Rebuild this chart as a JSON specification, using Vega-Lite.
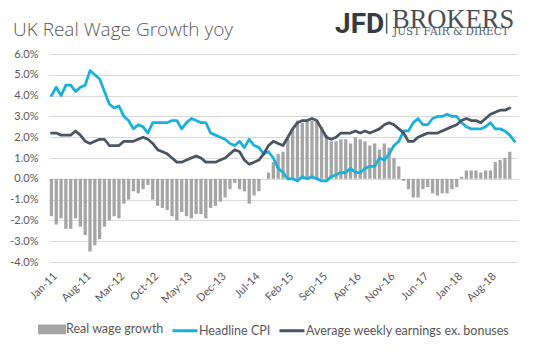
{
  "$schema": "https://vega.github.io/schema/vega-lite/v6.json",
  "width": 468,
  "height": 208,
  "autosize": {"type": "none"},
  "padding": {"left": 49, "top": 54, "right": 26, "bottom": 89},
  "background": "white",
  "config": {
    "view": {"stroke": null},
    "font": "Lato",
    "axisY": {"tickCount": 20, "labelOverlap": false, "title": null, "ticks": false, "domain": false, "grid": true, "gridColor": "#D9D9D9", "gridWidth": 1, "labelFont": "Lato", "labelFontSize": 11, "labelColor": "#595959", "labelPadding": 11},
    "axisX": {"labelAngle": -45, "ticks": false, "domain": false, "grid": false, "title": null, "labelFont": "Lato", "labelFontSize": 11, "labelColor": "#595959", "labelPadding": 8}
  },
  "title": {"text": "UK Real Wage Growth yoy", "anchor": "start", "frame": "group", "dx": -36, "dy": 48, "offset": 0, "baseline": "alphabetic", "fontSize": 19, "fontWeight": 300, "font": "Open Sans", "color": "#595959"},
  "resolve": {"axis": {"x": "independent", "y": "independent"}},
  "data": {"values": [
    {"m":"Jan-11","cpi":4.0,"awe":2.2,"real":-1.8},
    {"m":"Feb-11","cpi":4.4,"awe":2.2,"real":-2.2},
    {"m":"Mar-11","cpi":4.0,"awe":2.1,"real":-1.9},
    {"m":"Apr-11","cpi":4.5,"awe":2.1,"real":-2.4},
    {"m":"May-11","cpi":4.5,"awe":2.1,"real":-2.4},
    {"m":"Jun-11","cpi":4.2,"awe":2.3,"real":-1.9},
    {"m":"Jul-11","cpi":4.4,"awe":2.1,"real":-2.3},
    {"m":"Aug-11","cpi":4.5,"awe":1.8,"real":-2.7},
    {"m":"Sep-11","cpi":5.2,"awe":1.7,"real":-3.5},
    {"m":"Oct-11","cpi":5.0,"awe":1.8,"real":-3.2},
    {"m":"Nov-11","cpi":4.8,"awe":1.9,"real":-2.9},
    {"m":"Dec-11","cpi":4.2,"awe":1.9,"real":-2.3},
    {"m":"Jan-12","cpi":3.6,"awe":1.6,"real":-2.0},
    {"m":"Feb-12","cpi":3.4,"awe":1.6,"real":-1.8},
    {"m":"Mar-12","cpi":3.5,"awe":1.6,"real":-1.9},
    {"m":"Apr-12","cpi":3.0,"awe":1.8,"real":-1.2},
    {"m":"May-12","cpi":2.8,"awe":1.8,"real":-1.0},
    {"m":"Jun-12","cpi":2.4,"awe":1.8,"real":-0.6},
    {"m":"Jul-12","cpi":2.6,"awe":1.9,"real":-0.7},
    {"m":"Aug-12","cpi":2.5,"awe":2.0,"real":-0.5},
    {"m":"Sep-12","cpi":2.2,"awe":1.9,"real":-0.3},
    {"m":"Oct-12","cpi":2.7,"awe":1.7,"real":-1.0},
    {"m":"Nov-12","cpi":2.7,"awe":1.4,"real":-1.3},
    {"m":"Dec-12","cpi":2.7,"awe":1.3,"real":-1.4},
    {"m":"Jan-13","cpi":2.7,"awe":1.2,"real":-1.5},
    {"m":"Feb-13","cpi":2.8,"awe":1.0,"real":-1.8},
    {"m":"Mar-13","cpi":2.8,"awe":0.8,"real":-2.0},
    {"m":"Apr-13","cpi":2.4,"awe":0.8,"real":-1.6},
    {"m":"May-13","cpi":2.7,"awe":0.9,"real":-1.8},
    {"m":"Jun-13","cpi":2.9,"awe":1.0,"real":-1.9},
    {"m":"Jul-13","cpi":2.8,"awe":1.1,"real":-1.7},
    {"m":"Aug-13","cpi":2.7,"awe":1.0,"real":-1.7},
    {"m":"Sep-13","cpi":2.7,"awe":0.8,"real":-1.9},
    {"m":"Oct-13","cpi":2.2,"awe":0.8,"real":-1.4},
    {"m":"Nov-13","cpi":2.1,"awe":0.8,"real":-1.3},
    {"m":"Dec-13","cpi":2.0,"awe":0.9,"real":-1.1},
    {"m":"Jan-14","cpi":1.9,"awe":1.0,"real":-0.9},
    {"m":"Feb-14","cpi":1.7,"awe":1.2,"real":-0.5},
    {"m":"Mar-14","cpi":1.6,"awe":1.4,"real":-0.2},
    {"m":"Apr-14","cpi":1.8,"awe":1.3,"real":-0.5},
    {"m":"May-14","cpi":1.5,"awe":0.9,"real":-0.6},
    {"m":"Jun-14","cpi":1.9,"awe":0.7,"real":-1.2},
    {"m":"Jul-14","cpi":1.6,"awe":0.8,"real":-0.8},
    {"m":"Aug-14","cpi":1.5,"awe":0.9,"real":-0.6},
    {"m":"Sep-14","cpi":1.2,"awe":1.2,"real":0.0},
    {"m":"Oct-14","cpi":1.3,"awe":1.6,"real":0.3},
    {"m":"Nov-14","cpi":1.0,"awe":1.8,"real":0.8},
    {"m":"Dec-14","cpi":0.5,"awe":1.7,"real":1.2},
    {"m":"Jan-15","cpi":0.3,"awe":1.6,"real":1.3},
    {"m":"Feb-15","cpi":0.0,"awe":2.0,"real":2.0},
    {"m":"Mar-15","cpi":0.0,"awe":2.4,"real":2.4},
    {"m":"Apr-15","cpi":-0.1,"awe":2.7,"real":2.8},
    {"m":"May-15","cpi":0.1,"awe":2.8,"real":2.7},
    {"m":"Jun-15","cpi":0.0,"awe":2.8,"real":2.8},
    {"m":"Jul-15","cpi":0.1,"awe":2.9,"real":2.8},
    {"m":"Aug-15","cpi":0.0,"awe":2.8,"real":2.8},
    {"m":"Sep-15","cpi":-0.1,"awe":2.4,"real":2.5},
    {"m":"Oct-15","cpi":-0.1,"awe":2.0,"real":2.1},
    {"m":"Nov-15","cpi":0.1,"awe":1.9,"real":1.8},
    {"m":"Dec-15","cpi":0.2,"awe":2.0,"real":1.8},
    {"m":"Jan-16","cpi":0.3,"awe":2.2,"real":1.9},
    {"m":"Feb-16","cpi":0.3,"awe":2.2,"real":1.9},
    {"m":"Mar-16","cpi":0.5,"awe":2.2,"real":1.7},
    {"m":"Apr-16","cpi":0.3,"awe":2.3,"real":2.0},
    {"m":"May-16","cpi":0.3,"awe":2.2,"real":1.9},
    {"m":"Jun-16","cpi":0.5,"awe":2.3,"real":1.8},
    {"m":"Jul-16","cpi":0.6,"awe":2.2,"real":1.6},
    {"m":"Aug-16","cpi":0.6,"awe":2.3,"real":1.7},
    {"m":"Sep-16","cpi":1.0,"awe":2.4,"real":1.4},
    {"m":"Oct-16","cpi":0.9,"awe":2.6,"real":1.7},
    {"m":"Nov-16","cpi":1.2,"awe":2.7,"real":1.5},
    {"m":"Dec-16","cpi":1.6,"awe":2.6,"real":1.0},
    {"m":"Jan-17","cpi":1.8,"awe":2.4,"real":0.6},
    {"m":"Feb-17","cpi":2.3,"awe":2.2,"real":-0.1},
    {"m":"Mar-17","cpi":2.3,"awe":1.8,"real":-0.5},
    {"m":"Apr-17","cpi":2.7,"awe":1.8,"real":-0.9},
    {"m":"May-17","cpi":2.9,"awe":2.0,"real":-0.9},
    {"m":"Jun-17","cpi":2.6,"awe":2.1,"real":-0.5},
    {"m":"Jul-17","cpi":2.6,"awe":2.2,"real":-0.4},
    {"m":"Aug-17","cpi":2.9,"awe":2.2,"real":-0.7},
    {"m":"Sep-17","cpi":3.0,"awe":2.2,"real":-0.8},
    {"m":"Oct-17","cpi":3.0,"awe":2.3,"real":-0.7},
    {"m":"Nov-17","cpi":3.1,"awe":2.4,"real":-0.7},
    {"m":"Dec-17","cpi":3.0,"awe":2.5,"real":-0.5},
    {"m":"Jan-18","cpi":3.0,"awe":2.6,"real":-0.4},
    {"m":"Feb-18","cpi":2.7,"awe":2.8,"real":0.1},
    {"m":"Mar-18","cpi":2.5,"awe":2.9,"real":0.4},
    {"m":"Apr-18","cpi":2.4,"awe":2.8,"real":0.4},
    {"m":"May-18","cpi":2.4,"awe":2.8,"real":0.4},
    {"m":"Jun-18","cpi":2.4,"awe":2.7,"real":0.3},
    {"m":"Jul-18","cpi":2.5,"awe":2.9,"real":0.4},
    {"m":"Aug-18","cpi":2.7,"awe":3.1,"real":0.4},
    {"m":"Sep-18","cpi":2.4,"awe":3.2,"real":0.8},
    {"m":"Oct-18","cpi":2.4,"awe":3.3,"real":0.9},
    {"m":"Nov-18","cpi":2.3,"awe":3.3,"real":1.0},
    {"m":"Dec-18","cpi":2.1,"awe":3.4,"real":1.3},
    {"m":"Jan-19","cpi":1.8,"awe":null,"real":null}
  ]},
  "layer": [
    {
      "transform": [
        {"fold": ["real", "cpi", "awe"], "as": ["series", "value"]},
        {"filter": "datum.series === 'real' && isValid(datum.value)"}
      ],
      "mark": {"type": "bar"},
      "encoding": {
        "x": {
          "field": "m", "type": "ordinal", "sort": null,
          "scale": {"paddingInner": 0.32, "paddingOuter": 0.16},
          "axis": {
            "values": ["Jan-11","Aug-11","Mar-12","Oct-12","May-13","Dec-13","Jul-14","Feb-15","Sep-15","Apr-16","Nov-16","Jun-17","Jan-18","Aug-18"]
          }
        },
        "y": {
          "field": "value", "type": "quantitative",
          "scale": {"domain": [-4, 6], "nice": false, "zero": false},
          "axis": {
            "values": [-4, -3, -2, -1, 0, 1, 2, 3, 4, 5, 6],
            "tickCount": 20,
            "labelExpr": "replace(format(datum.value, '.1f'), '\u2212', '-') + '%'"
          }
        },
        "color": {
          "field": "series", "type": "nominal",
          "scale": {"domain": ["real", "cpi", "awe"], "range": ["#A5A5A5", "#17B1DB", "#4A5563"]},
          "legend": {
            "orient": "none", "legendX": -11, "legendY": 261, "direction": "horizontal", "title": null,
            "labelExpr": "datum.value === 'real' ? 'Real wage growth' : datum.value === 'cpi' ? 'Headline CPI' : 'Average weekly earnings ex. bonuses'",
            "labelFont": "Lato", "labelFontSize": 12.5, "labelColor": "#595959", "labelLimit": 400,
            "symbolSize": 625, "labelOffset": 0, "columnPadding": 2,
            "encode": {
              "symbols": {
                "update": {
                  "shape": [{"test": "datum.value === 'real'", "value": "M-1,-0.27H1V0.27H-1Z"}, {"value": "stroke"}],
                  "fill": [{"test": "datum.value === 'real'", "value": "#A5A5A5"}, {"value": "transparent"}],
                  "stroke": [{"test": "datum.value === 'real'", "value": "transparent"}, {"test": "datum.value === 'cpi'", "value": "#17B1DB"}, {"value": "#4A5563"}],
                  "strokeWidth": {"value": 3},
                  "opacity": {"value": 1}
                }
              }
            }
          }
        }
      }
    },
    {
      "transform": [
        {"fold": ["cpi", "awe"], "as": ["series", "value"]},
        {"filter": "isValid(datum.value)"}
      ],
      "mark": {"type": "line", "strokeWidth": 2.75, "strokeJoin": "round", "strokeCap": "round"},
      "encoding": {
        "x": {"field": "m", "type": "ordinal", "sort": null, "axis": null},
        "y": {"field": "value", "type": "quantitative", "axis": null},
        "color": {"field": "series", "type": "nominal"},
        "order": {"value": null}
      }
    },
    {
      "transform": [{"filter": "datum.m === 'Oct-16'"}],
      "mark": {"type": "text", "align": "right", "baseline": "alphabetic", "font": "Roboto", "fontWeight": "bold", "fontSize": 28, "fill": "#363B43"},
      "encoding": {
        "x": {"field": "m", "type": "ordinal", "sort": null, "axis": null},
        "y": {"datum": 7.0, "type": "quantitative", "axis": null},
        "text": {"value": "JFD"}
      }
    },
    {
      "transform": [{"filter": "datum.m === 'Nov-16'"}],
      "mark": {"type": "rule", "color": "#555A62", "strokeWidth": 1.5, "xOffset": -2.5},
      "encoding": {
        "x": {"field": "m", "type": "ordinal", "sort": null, "axis": null},
        "y": {"datum": 7.96, "type": "quantitative", "axis": null},
        "y2": {"datum": 6.98}
      }
    },
    {
      "transform": [{"filter": "datum.m === 'Dec-16'"}],
      "mark": {"type": "text", "align": "left", "baseline": "alphabetic", "font": "Liberation Serif", "fontSize": 26.5, "fill": "#4A4F57", "dx": -2},
      "encoding": {
        "x": {"field": "m", "type": "ordinal", "sort": null, "axis": null},
        "y": {"datum": 7.24, "type": "quantitative", "axis": null},
        "text": {"value": "BROKERS"}
      }
    },
    {
      "transform": [{"filter": "datum.m === 'Dec-16'"}],
      "mark": {"type": "text", "align": "left", "baseline": "alphabetic", "font": "DejaVu Serif", "fontSize": 10.5, "fill": "#555A62", "dx": -1},
      "encoding": {
        "x": {"field": "m", "type": "ordinal", "sort": null, "axis": null},
        "y": {"datum": 6.93, "type": "quantitative", "axis": null},
        "text": {"value": "JUST FAIR & DIRECT"}
      }
    }
  ]
}
